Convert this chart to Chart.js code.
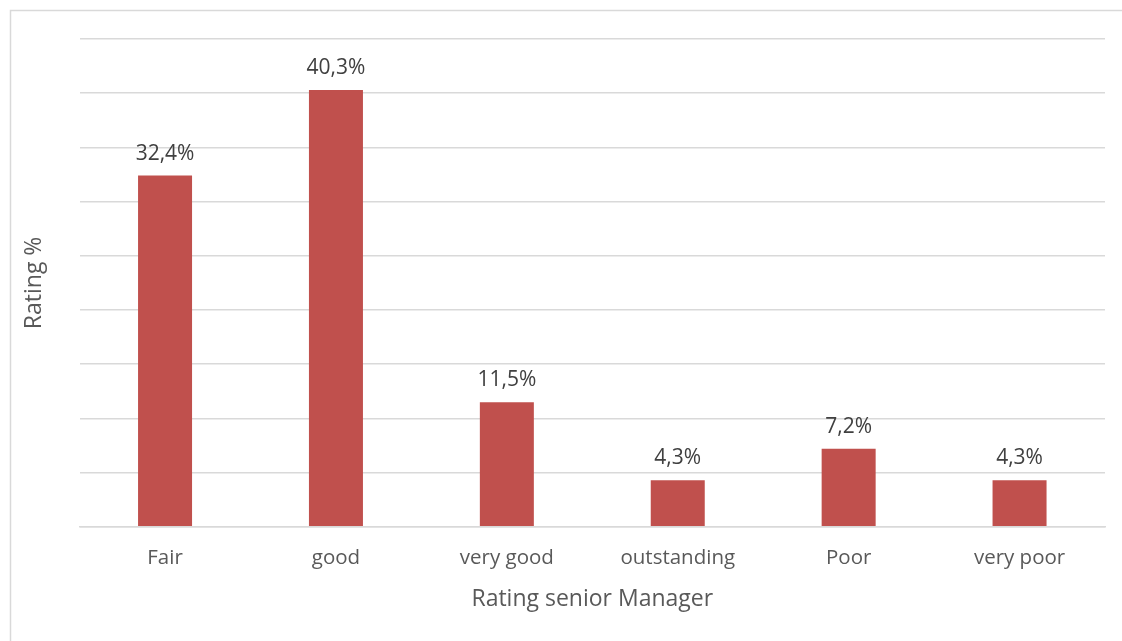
<!DOCTYPE html>
<html>
<head>
<meta charset="utf-8">
<script src="https://cdn.jsdelivr.net/npm/chart.js@4/dist/chart.umd.min.js"></script>
<style>
  html, body { margin: 0; padding: 0; background: #ffffff; }
  #wrap { width: 1122px; height: 641px; position: relative; }
</style>
</head>
<body>
<div id="wrap"><canvas id="c" width="1122" height="641"></canvas></div>
<script>
const categories = ["Fair", "good", "very good", "outstanding", "Poor", "very poor"];
const ratingValues = [32.4, 40.3, 11.5, 4.3, 7.2, 4.3];
const valueLabels = ["32,4%", "40,3%", "11,5%", "4,3%", "7,2%", "4,3%"];
const xTitle = "Rating senior Manager";
const yTitle = "Rating %";

const FONT = "'Open Sans', 'Liberation Sans', sans-serif";

// light frame around the chart area
const framePlugin = {
  id: "frame",
  beforeDraw(chart) {
    const ctx = chart.ctx;
    ctx.save();
    ctx.fillStyle = "#ffffff";
    ctx.fillRect(0, 0, chart.width, chart.height);
    ctx.strokeStyle = "#d9d9d9";
    ctx.lineWidth = 1.5;
    ctx.strokeRect(10.5, 10.5, chart.width + 20, chart.height + 20);
    ctx.restore();
  }
};

// value labels above each bar
const valueLabelPlugin = {
  id: "valueLabels",
  afterDatasetsDraw(chart) {
    const ctx = chart.ctx;
    const meta = chart.getDatasetMeta(0);
    ctx.save();
    ctx.font = "21px " + FONT;
    ctx.fillStyle = "#404040";
    ctx.textAlign = "center";
    ctx.textBaseline = "alphabetic";
    meta.data.forEach((bar, i) => {
      ctx.fillText(valueLabels[i], bar.x, bar.y - 16);
    });
    ctx.restore();
  }
};

new Chart(document.getElementById("c"), {
  type: "bar",
  data: {
    labels: categories,
    datasets: [{
      data: ratingValues,
      backgroundColor: "#c0504d",
      borderWidth: 0,
      categoryPercentage: 0.316,
      barPercentage: 1.0
    }]
  },
  options: {
    responsive: false,
    animation: false,
    devicePixelRatio: 1,
    layout: { padding: { left: 21, right: 17, top: 39, bottom: 28 } },
    plugins: {
      legend: { display: false },
      tooltip: { enabled: false }
    },
    scales: {
      x: {
        grid: { display: false, drawTicks: false },
        border: { display: true, color: "#d9d9d9", width: 1.5 },
        ticks: { color: "#595959", font: { family: FONT, size: 20.5 }, padding: 19 },
        title: { display: true, text: xTitle, color: "#595959", font: { family: FONT, size: 23 }, padding: { top: -4, bottom: 0 } }
      },
      y: {
        min: 0,
        max: 45,
        ticks: { display: false, stepSize: 5 },
        grid: { color: "#d9d9d9", lineWidth: 1.5, drawTicks: false },
        border: { display: false },
        title: { display: true, text: yTitle, color: "#595959", font: { family: FONT, size: 23 }, padding: { top: 0, bottom: 31 } }
      }
    }
  },
  plugins: [framePlugin, valueLabelPlugin]
});
</script>
</body>
</html>
